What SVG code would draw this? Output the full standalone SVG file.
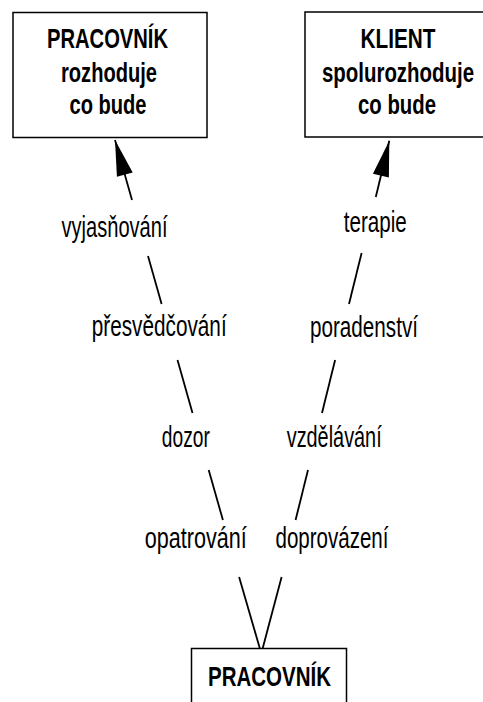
<svg xmlns="http://www.w3.org/2000/svg" width="483" height="702" viewBox="0 0 483 702">
<style>
.box{fill:#fff;stroke:#000;stroke-width:1.5}
.bt{font-family:"Liberation Sans Narrow","Liberation Sans",Arial,sans-serif;font-weight:bold;font-size:28.5px;fill:#000;text-anchor:middle}
.lt{font-family:"Liberation Sans Narrow","Liberation Sans",Arial,sans-serif;font-size:29.5px;fill:#000;text-anchor:middle}
.ln{stroke:#000;stroke-width:1.8;fill:none}
</style>
<defs>
<marker id="ah" markerUnits="userSpaceOnUse" markerWidth="40" markerHeight="20" viewBox="-38 -10 40 20" refX="0" refY="0" orient="auto">
<path d="M0,0 L-36,-8.2 L-36,8.2 Z" fill="#000"/>
</marker>
</defs>
<rect width="483" height="702" fill="#fff"/>
<g id="connectors">
<line class="ln" x1="132" y1="200" x2="115" y2="140" marker-end="url(#ah)"/>
<line class="ln" x1="148" y1="256" x2="161.6" y2="304"/>
<line class="ln" x1="177.5" y1="360" x2="192.5" y2="413"/>
<line class="ln" x1="208.7" y1="470" x2="222.9" y2="520"/>
<line class="ln" x1="239.1" y1="577" x2="260" y2="649"/>
<line class="ln" x1="375.8" y1="197" x2="389.3" y2="140.7" marker-end="url(#ah)"/>
<line class="ln" x1="361.6" y1="253" x2="349" y2="304"/>
<line class="ln" x1="335.1" y1="360" x2="322" y2="413"/>
<line class="ln" x1="308" y1="470" x2="295.6" y2="520"/>
<line class="ln" x1="281.6" y1="577" x2="262.5" y2="649"/>
</g>
<g id="worker-decides">
<rect class="box" x="13" y="12.5" width="194" height="125"/>
<text class="bt" x="107.5" y="48.3" textLength="121" lengthAdjust="spacingAndGlyphs">PRACOVNÍK</text>
<text class="bt" x="109" y="81.7" textLength="96" lengthAdjust="spacingAndGlyphs">rozhoduje</text>
<text class="bt" x="108" y="114.3" textLength="77" lengthAdjust="spacingAndGlyphs">co bude</text>
</g>
<g id="client-codecides">
<rect class="box" x="305" y="12" width="192" height="125"/>
<text class="bt" x="398" y="48.3" textLength="75" lengthAdjust="spacingAndGlyphs">KLIENT</text>
<text class="bt" x="398" y="81.7" textLength="152" lengthAdjust="spacingAndGlyphs">spolurozhoduje</text>
<text class="bt" x="397" y="114.3" textLength="78" lengthAdjust="spacingAndGlyphs">co bude</text>
</g>
<g id="worker">
<rect class="box" x="191.5" y="648.5" width="155" height="70"/>
<text class="bt" x="269.5" y="686" textLength="123" lengthAdjust="spacingAndGlyphs">PRACOVNÍK</text>
</g>
<g id="vyjasnovani"><text class="lt" x="114.5" y="236.5" textLength="106" lengthAdjust="spacingAndGlyphs">vyjasňování</text></g>
<g id="terapie"><text class="lt" x="375.3" y="231.5" textLength="63" lengthAdjust="spacingAndGlyphs">terapie</text></g>
<g id="presvedcovani"><text class="lt" x="159.2" y="335.5" textLength="135" lengthAdjust="spacingAndGlyphs">přesvědčování</text></g>
<g id="poradenstvi"><text class="lt" x="364" y="336.5" textLength="108" lengthAdjust="spacingAndGlyphs">poradenství</text></g>
<g id="dozor"><text class="lt" x="185.8" y="446.5" textLength="48" lengthAdjust="spacingAndGlyphs">dozor</text></g>
<g id="vzdelavani"><text class="lt" x="334.2" y="446.5" textLength="95" lengthAdjust="spacingAndGlyphs">vzdělávání</text></g>
<g id="opatrovani"><text class="lt" x="195.8" y="548.3" textLength="102" lengthAdjust="spacingAndGlyphs">opatrování</text></g>
<g id="doprovazeni"><text class="lt" x="332" y="548.3" textLength="113" lengthAdjust="spacingAndGlyphs">doprovázení</text></g>
</svg>
